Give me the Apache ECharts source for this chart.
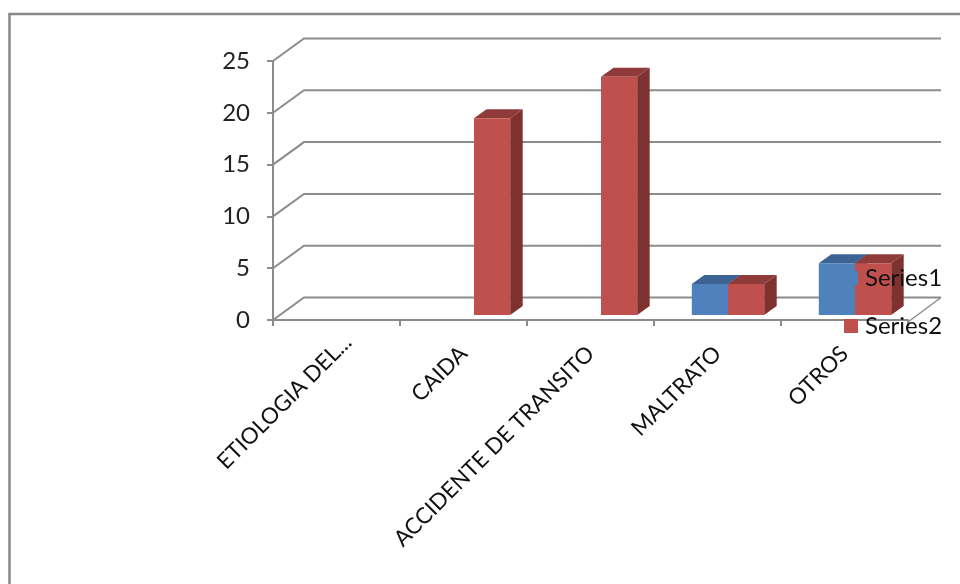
<!DOCTYPE html>
<html><head><meta charset="utf-8">
<style>html,body{margin:0;padding:0;background:#fff}#c{width:960px;height:584px}</style>
<script src="https://cdn.jsdelivr.net/npm/echarts@6/dist/echarts.min.js"></script>
</head><body><div id="c"></div>
<script>
const categories = ['ETIOLOGIA DEL...', 'CAIDA', 'ACCIDENTE DE TRANSITO', 'MALTRATO', 'OTROS'];
const series1Values = [null, null, null, 3, 5];
const series2Values = [null, 19, 23, 3, 5];
const yTicks = [0, 5, 10, 15, 20, 25];

const WALL = [31, -22.5], FRONT = [10.5, -5], DEPTH = [12.5, -9], BAR_FRAC = 0.285;
const GRID = '#8c8c8c';

function barItem(side, colors) {
  return function (params, api) {
    const v = api.value(1);
    if (v == null || isNaN(v)) return null;
    const c = api.value(0);
    const top = api.coord([c, v]), base = api.coord([c, 0]);
    const w = api.size([1, 0])[0] * BAR_FRAC;
    const x0 = top[0] + FRONT[0] + (side < 0 ? -w : 0), x1 = x0 + w;
    const yt = top[1] + FRONT[1], yb = base[1] + FRONT[1];
    const [dx, dy] = DEPTH;
    return { type: 'group', children: [
      { type: 'polygon', shape: { points: [[x1, yt], [x1 + dx, yt + dy], [x1 + dx, yb + dy], [x1, yb]] }, style: { fill: colors[2] } },
      { type: 'polygon', shape: { points: [[x0, yt], [x0 + dx, yt + dy], [x1 + dx, yt + dy], [x1, yt]] }, style: { fill: colors[1] } },
      { type: 'rect', shape: { x: x0, y: yt, width: w, height: yb - yt }, style: { fill: colors[0] } }
    ] };
  };
}
function wallItem(params, api) {
  const v = api.value(0);
  const sys = params.coordSys;
  const p = api.coord([0, v]);
  const x0 = sys.x, y0 = p[1];
  const kids = [
    { type: 'polyline', shape: { points: [[x0, y0], [x0 + WALL[0], y0 + WALL[1]], [sys.x + sys.width + WALL[0] + 2, y0 + WALL[1]]] }, style: { stroke: GRID, lineWidth: 2, fill: null } }
  ];
  if (v === 0) kids.push({ type: 'line', shape: { x1: sys.x + sys.width, y1: y0 + 2, x2: sys.x + sys.width + WALL[0] + 2, y2: y0 + WALL[1] }, style: { stroke: GRID, lineWidth: 1.5 } });
  return { type: 'group', children: kids };
}
const chart = echarts.init(document.getElementById('c'), null, { renderer: 'canvas' });
chart.setOption({
  animation: false,
  backgroundColor: '#fff',
  textStyle: { fontFamily: 'Lato' },
  graphic: [{ type: 'rect', shape: { x: 9.5, y: 14, width: 1000, height: 1000 }, style: { fill: null, stroke: '#888888', lineWidth: 2.5 }, silent: true }],
  grid: { left: 273, top: 61, width: 635, height: 259 },
  legend: {
    orient: 'vertical', left: 844, top: 266, padding: 0, itemGap: 24, itemWidth: 14, itemHeight: 14,
    data: ['Series1', 'Series2'], icon: 'rect',
    textStyle: { fontSize: 24, color: '#111', fontFamily: 'Lato', padding: [0, 0, 0, 2] }
  },
  xAxis: {
    type: 'category',
    data: categories.map((c, i) => i === 0 ? { value: c, textStyle: { padding: [0, -16, 0, 0] } } : c),
    offset: 2,
    axisLine: { lineStyle: { color: GRID, width: 2 } },
    axisTick: { show: true, length: 6, lineStyle: { color: GRID, width: 2 } },
    axisLabel: { rotate: 45, interval: 0, fontSize: 22.3, color: '#111', margin: 28, fontFamily: 'Lato' }
  },
  yAxis: {
    type: 'value', min: 0, max: 25, interval: 5,
    splitLine: { show: false },
    axisLine: { show: true, lineStyle: { color: GRID, width: 2 } },
    axisTick: { show: true, length: 6, lineStyle: { color: GRID, width: 2 } },
    axisLabel: { fontSize: 24, color: '#222', margin: 23, fontFamily: 'Lato', padding: [2, 0, 0, 0] }
  },
  series: [
    { type: 'custom', name: 'wall', silent: true, z: 1, renderItem: wallItem, encode: { y: 0 }, data: yTicks.map(v => [v]) },
    { type: 'custom', name: 'Series1', z: 2, itemStyle: { color: '#4F81BD' }, renderItem: barItem(-1, ['#4F81BD', '#3D6392', '#335479']), encode: { x: 0, y: 1 }, data: series1Values.map((v, i) => [i, v]) },
    { type: 'custom', name: 'Series2', z: 3, itemStyle: { color: '#C0504D' }, renderItem: barItem(1, ['#C0504D', '#8F3B39', '#7D3230']), encode: { x: 0, y: 1 }, data: series2Values.map((v, i) => [i, v]) }
  ]
});
</script></body></html>
